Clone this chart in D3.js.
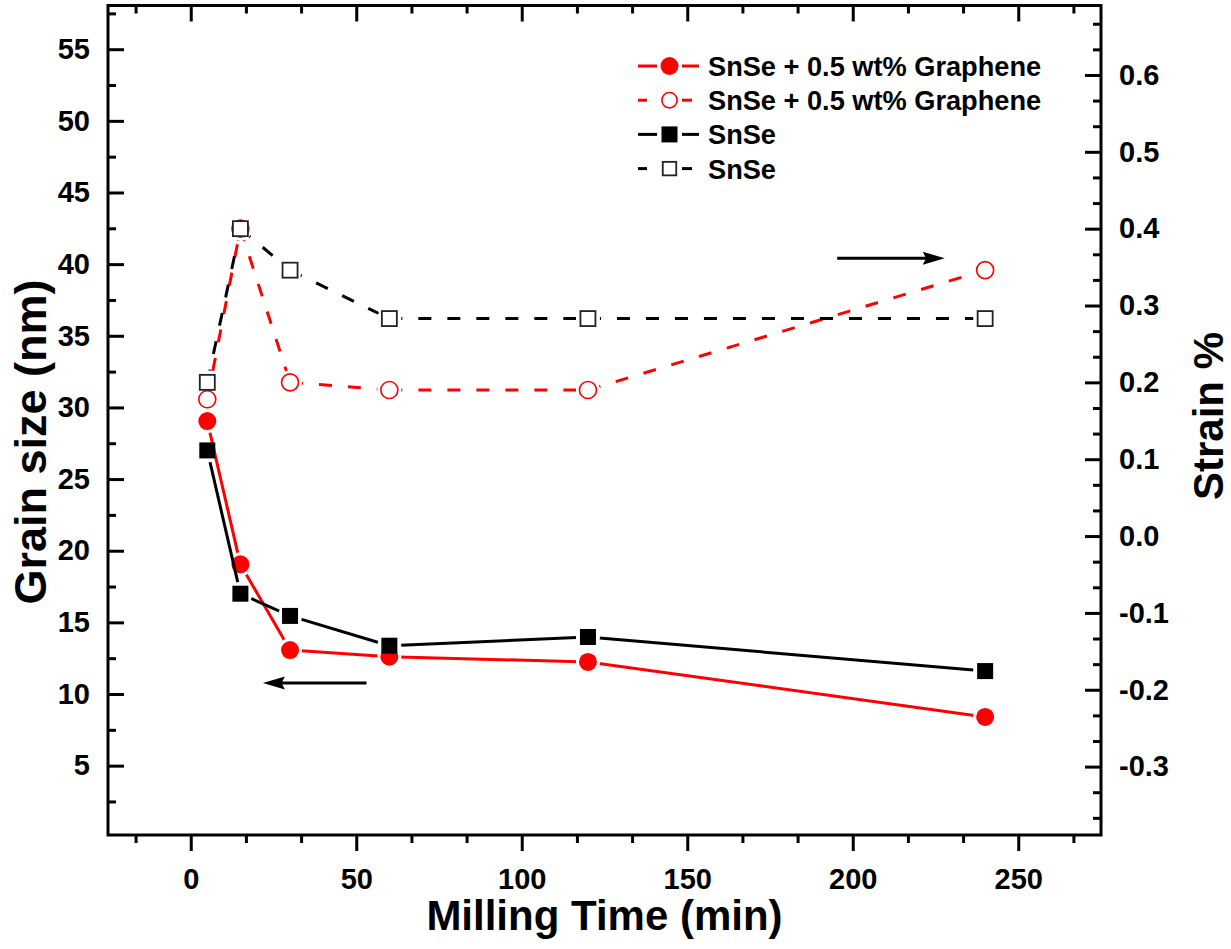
<!DOCTYPE html>
<html>
<head>
<meta charset="utf-8">
<script src="https://cdn.jsdelivr.net/npm/d3@7"></script>
<style>
  html, body { margin: 0; padding: 0; background: #fff; }
  svg { display: block; font-family: "Liberation Sans", Arial, Helvetica, sans-serif; font-weight: bold; }
</style>
</head>
<body>
<svg id="chart" width="1231" height="949"></svg>
<script>
// Milling time (min)
const millingTime = [5, 15, 30, 60, 120, 240];

// Grain size (nm), left axis
const grainGraphene = [29.05, 19.05, 13.07, 12.6, 12.24, 8.4];
const grainSnSe     = [27.0, 17.0, 15.45, 13.37, 13.98, 11.6];

// Strain (%), right axis
const strainGraphene = [0.178, 0.4, 0.2, 0.19, 0.19, 0.346];
const strainSnSe     = [0.2, 0.4, 0.346, 0.283, 0.283, 0.283];

// Axis ticks
const timeTicks   = [0, 50, 100, 150, 200, 250];
const grainTicks  = [5, 10, 15, 20, 25, 30, 35, 40, 45, 50, 55];
const strainTicks = [-0.3, -0.2, -0.1, 0.0, 0.1, 0.2, 0.3, 0.4, 0.5, 0.6];

const legendLabels = ["SnSe + 0.5 wt% Graphene", "SnSe + 0.5 wt% Graphene", "SnSe", "SnSe"];

const svg = d3.select("#chart");
const W = 1231, H = 949;
const plot = { left: 108, right: 1101, top: 5.5, bottom: 835 };

const x  = d3.scaleLinear().domain([-25, 275]).range([plot.left, plot.right]);
const yL = d3.scaleLinear().domain([0.16, 58.05]).range([plot.bottom, plot.top]);
const yR = d3.scaleLinear().domain([-0.389, 0.6904]).range([plot.bottom, plot.top]);

// minor tick values
const xMinor = d3.range(-1, 17).filter(k => k % 3 !== 0).map(k => k * 50 / 3);
const yLMinor = d3.range(0, 12).map(k => 2.5 + k * 5);
const yRMinor = d3.range(-11, 21).filter(k => k % 3 !== 0).map(k => k * 0.1 / 3);

const fontTick = 29;

function styleAxis(g) {
  g.select(".domain").remove();
  g.selectAll(".tick line").attr("stroke", "#000").attr("stroke-width", 3);
  g.selectAll(".tick text").attr("fill", "#000").attr("font-size", fontTick)
    .attr("font-family", "\"Liberation Sans\", Arial, sans-serif").attr("font-weight", "bold");
}

// bottom axis (outward ticks)
svg.append("g").attr("transform", `translate(0,${plot.bottom})`)
  .call(d3.axisBottom(x).tickValues(xMinor).tickSize(8).tickFormat(""))
  .call(styleAxis);
svg.append("g").attr("transform", `translate(0,${plot.bottom})`)
  .call(d3.axisBottom(x).tickValues(timeTicks).tickSize(16).tickPadding(17).tickFormat(d3.format("d")))
  .call(styleAxis);

// top axis (inward ticks)
svg.append("g").attr("transform", `translate(0,${plot.top})`)
  .call(d3.axisTop(x).tickValues(xMinor).tickSize(-8).tickFormat(""))
  .call(styleAxis);
svg.append("g").attr("transform", `translate(0,${plot.top})`)
  .call(d3.axisTop(x).tickValues(timeTicks).tickSize(-16).tickFormat(""))
  .call(styleAxis);

// left axis (inward ticks)
svg.append("g").attr("transform", `translate(${plot.left},0)`)
  .call(d3.axisLeft(yL).tickValues(yLMinor).tickSize(-8).tickFormat(""))
  .call(styleAxis);
svg.append("g").attr("transform", `translate(${plot.left},0)`)
  .call(d3.axisLeft(yL).tickValues(grainTicks).tickSize(-16).tickPadding(18).tickFormat(d3.format("d")))
  .call(styleAxis);

// right axis (inward ticks)
const fmtStrain = d => (Math.abs(d) < 1e-9 ? 0 : d).toFixed(1);
svg.append("g").attr("transform", `translate(${plot.right},0)`)
  .call(d3.axisRight(yR).tickValues(yRMinor).tickSize(-8).tickFormat(""))
  .call(styleAxis);
svg.append("g").attr("transform", `translate(${plot.right},0)`)
  .call(d3.axisRight(yR).tickValues(strainTicks).tickSize(-16).tickPadding(18).tickFormat(fmtStrain))
  .call(styleAxis);

// frame
svg.append("rect")
  .attr("x", plot.left).attr("y", plot.top)
  .attr("width", plot.right - plot.left).attr("height", plot.bottom - plot.top)
  .attr("fill", "none").attr("stroke", "#000").attr("stroke-width", 3);

// axis titles
svg.append("text")
  .attr("transform", `translate(46,442) rotate(-90)`)
  .attr("text-anchor", "middle").attr("font-size", 45).text("Grain size (nm)");
svg.append("text")
  .attr("x", (plot.left + plot.right) / 2).attr("y", 930)
  .attr("text-anchor", "middle").attr("font-size", 42).text("Milling Time (min)");
svg.append("text")
  .attr("transform", `translate(1223,416) rotate(-90)`)
  .attr("text-anchor", "middle").attr("font-size", 42).text("Strain %");

// series definitions
const series = [
  { id: "gG", y: yL, values: grainGraphene,  color: "#ff0000", dashed: false, shape: "circle", filled: true },
  { id: "sG", y: yR, values: strainGraphene, color: "#ff0000", dashed: true,  shape: "circle", filled: false },
  { id: "gS", y: yL, values: grainSnSe,      color: "#000000", dashed: false, shape: "square", filled: true },
  { id: "sS", y: yR, values: strainSnSe,     color: "#000000", dashed: true,  shape: "square", filled: false }
];

const defs = svg.append("defs");
const gapR = 12;

function drawMarker(g, s, cx, cy, scale = 1) {
  if (s.shape === "circle") {
    if (s.filled) {
      g.append("circle").attr("cx", cx).attr("cy", cy).attr("r", 9 * scale).attr("fill", s.color);
    } else {
      g.append("circle").attr("cx", cx).attr("cy", cy).attr("r", 8.5 * scale)
        .attr("fill", "#fff").attr("stroke", s.color).attr("stroke-width", 1.6);
    }
  } else {
    if (s.filled) {
      const a = 16 * scale;
      g.append("rect").attr("x", cx - a / 2).attr("y", cy - a / 2).attr("width", a).attr("height", a)
        .attr("fill", s.color);
    } else {
      const a = 15 * scale;
      g.append("rect").attr("x", cx - a / 2).attr("y", cy - a / 2).attr("width", a).attr("height", a)
        .attr("fill", "#fff").attr("stroke", "#222").attr("stroke-width", 1.8);
    }
  }
}

series.forEach(s => {
  const pts = millingTime.map((t, i) => [x(t), s.y(s.values[i])]);

  // mask leaves a small gap between the line and each symbol
  const m = defs.append("mask").attr("id", "mask-" + s.id)
    .attr("maskUnits", "userSpaceOnUse").attr("x", 0).attr("y", 0).attr("width", W).attr("height", H);
  m.append("rect").attr("x", 0).attr("y", 0).attr("width", W).attr("height", H).attr("fill", "#fff");
  pts.forEach(p => m.append("circle").attr("cx", p[0]).attr("cy", p[1]).attr("r", gapR).attr("fill", "#000"));

  const g = svg.append("g");
  const lg = g.append("g").attr("mask", `url(#mask-${s.id})`);
  d3.pairs(pts).forEach(([a, b]) => {
    lg.append("line")
      .attr("x1", a[0]).attr("y1", a[1]).attr("x2", b[0]).attr("y2", b[1])
      .attr("stroke", s.color).attr("stroke-width", 3)
      .attr("stroke-dasharray", s.dashed ? "13,16" : null);
  });
  pts.forEach(p => drawMarker(g, s, p[0], p[1]));
});

// direction arrows
function arrow(x1, x2, yy) {
  const dir = Math.sign(x2 - x1);
  const headLen = 22, headHalf = 6.5;
  svg.append("line")
    .attr("x1", x1).attr("y1", yy).attr("x2", x2 - dir * headLen * 0.8).attr("y2", yy)
    .attr("stroke", "#000").attr("stroke-width", 3);
  svg.append("path")
    .attr("d", `M${x2},${yy} L${x2 - dir * headLen},${yy - headHalf} L${x2 - dir * headLen * 0.85},${yy} L${x2 - dir * headLen},${yy + headHalf} Z`)
    .attr("fill", "#000");
}
arrow(x(53.1), x(21.8), yL(10.77));
arrow(x(195.3), x(227.8), yR(0.3615));

// legend
const legend = svg.append("g");
const legX0 = 638, legX1 = 699, legMx = 669.5, legTx = 708, legY0 = 66, legDy = 34.2;
series.forEach((s, i) => {
  const cy = legY0 + i * legDy;
  const segs = s.dashed ? [[legX0, 647], [682, 692]] : [[legX0, 657], [682, legX1]];
  segs.forEach(([a, b]) => legend.append("line")
    .attr("x1", a).attr("x2", b).attr("y1", cy).attr("y2", cy)
    .attr("stroke", s.color).attr("stroke-width", 3));
  drawMarker(legend, s, legMx, cy, s.filled ? 1 : 0.9);
  legend.append("text").attr("x", legTx).attr("y", cy + 10)
    .attr("font-size", 27.2).attr("fill", "#000").text(legendLabels[i]);
});
</script>
</body>
</html>
